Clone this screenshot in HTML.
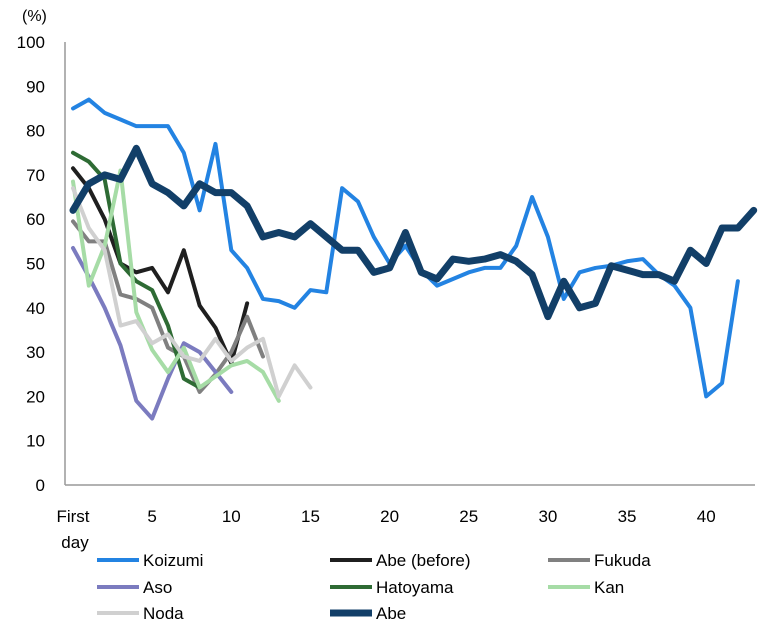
<!DOCTYPE html>
<html><head><meta charset="utf-8"><style>
body{margin:0;background:#fff;font-family:"Liberation Sans",sans-serif;}
svg text{font-family:"Liberation Sans",sans-serif;}
</style></head><body>
<svg id="chart" width="780" height="629" viewBox="0 0 780 629" xmlns="http://www.w3.org/2000/svg">
<g id="axes"></g><g id="series"></g><g id="legend"></g>
</svg>
<script>
const yTicks=[0,10,20,30,40,50,60,70,80,90,100];
const xTicks=[0,5,10,15,20,25,30,35,40];
const xTickLabels=["First","5","10","15","20","25","30","35","40"];
const seriesNames=["Koizumi","Abe (before)","Fukuda","Aso","Hatoyama","Kan","Noda","Abe"];
const koizumi=[85,87,84,82.5,81,81,81,75,62,77,53,49,42,41.5,40,44,43.5,67,64,56,50,54,48.5,45,46.5,48,49,49,54,65,56,42,48,49,49.5,50.5,51,47.5,45,40,20,23,46];
const abeBefore=[71.5,67,60,50,48,49,43.5,53,40.5,35.5,27.5,41];
const fukuda=[59.5,55,55,43,42,40,31,29,21,25,30,38,29];
const aso=[53.5,47,40,31.5,19,15,24,32,30,25.5,21];
const hatoyama=[75,73,69,50,46,44,36,24,22];
const kan=[68.5,45,54,71,39,30.5,25.5,31,22,24.5,27,28,25.5,19];
const noda=[67,58,53,36,37,32,34,29,28,33,28,31,33,20,27,22];
const abe=[62,68,70,69,76,68,66,63,68,66,66,63,56,57,56,59,56,53,53,48,49,57,48,46.5,51,50.5,51,52,50.5,47.5,38,46,40,41,49.5,48.5,47.5,47.5,46,53,50,58,58,62];
const allSeries=[koizumi,abeBefore,fukuda,aso,hatoyama,kan,noda,abe];
const colors=["#2383e2","#1f1f1f","#808080","#7b7bbf","#2e6b34","#a6dca6","#d0d0d0","#123f68"];
const widths=[4,4,4,4,4,4,4,7];
const NS="http://www.w3.org/2000/svg";
const X=i=>73+i*15.83;
const Y=v=>485-v*4.43;
function mk(tag,attrs,parent,txt){const e=document.createElementNS(NS,tag);for(const k in attrs)e.setAttribute(k,attrs[k]);if(txt!==undefined)e.textContent=txt;parent.appendChild(e);return e;}
const axes=document.getElementById('axes');
let l=mk('line',{x1:65,y1:42,x2:65,y2:485,stroke:'#999','stroke-width':1.5},axes);


l=mk('line',{x1:65,y1:485,x2:755,y2:485,stroke:'#999','stroke-width':1.5},axes);


let t=mk('text',{x:22,y:21,'font-size':16,fill:'#000'},axes,'(%)');


yTicks.forEach(v=>{const e=mk('text',{x:45,y:Y(v)+6,'font-size':17,'text-anchor':'end',fill:'#000'},axes,String(v));

});
xTicks.forEach((v,k)=>{const e=mk('text',{x:X(v),y:522,'font-size':17,'text-anchor':'middle',fill:'#000'},axes,xTickLabels[k]);

});
t=mk('text',{x:X(0)+2,y:548,'font-size':17,'text-anchor':'middle',fill:'#000'},axes,'day');


const sg=document.getElementById('series');
allSeries.forEach((d,s)=>{const p=mk('polyline',{points:d.map((v,i)=>X(i)+','+Y(v)).join(' '),fill:'none',stroke:colors[s],'stroke-width':widths[s],'stroke-linejoin':'round','stroke-linecap':'round'},sg);

});
const lg=document.getElementById('legend');
const colX=[97,330,548],rowY=[560,587,613];
seriesNames.forEach((n,s)=>{const cx=colX[s%3],cy=rowY[Math.floor(s/3)];
const g=mk('g',{},lg);


mk('line',{x1:cx,y1:cy,x2:cx+42,y2:cy,stroke:colors[s],'stroke-width':widths[s]},g);
mk('text',{x:cx+46,y:cy+6,'font-size':17,fill:'#000'},g,n);});
</script>
</body></html>
